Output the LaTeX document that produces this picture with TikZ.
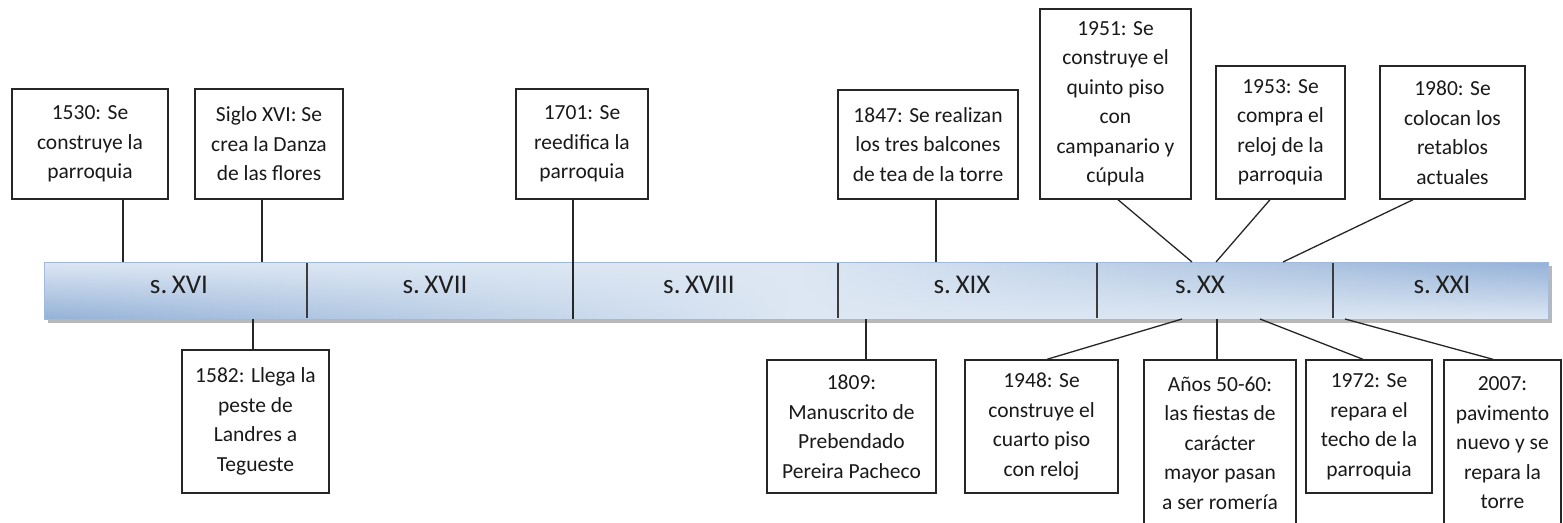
\documentclass[tikz,border=0pt]{standalone}
\usepackage{fontspec}
\setmainfont{Carlito}
\definecolor{barlight}{RGB}{221,231,243}
\definecolor{bardark}{RGB}{147,177,215}
\definecolor{barline}{RGB}{160,185,220}
\definecolor{divcol}{RGB}{60,60,60}
\newcommand\evfont{\fontsize{21.5}{29.5}\selectfont}
\newcommand\barfont{\fontsize{27}{30}\selectfont}
\tikzset{
  evbox/.style={draw=black!85, line width=1.4pt, fill=white, align=center, inner sep=0pt, font=\evfont, text=black!90},
  conn/.style={draw=black!85, line width=1.3pt},
  divider/.style={draw=divcol, line width=1.8pt},
  seglabel/.style={font=\barfont, text=black!88, inner sep=0pt}
}
\begin{document}
\begin{tikzpicture}[x=1pt,y=-1pt]
\useasboundingbox (0,0) rectangle (1563,522);
\clip (0,0) rectangle (1563,522);
% bar shadow
\fill[black!28] (48,266) rectangle (1552,323);
% bar body as vertical slices with changing gradient
\begin{scope}
\clip (44,262) rectangle (1548,319);
\foreach \i in {0,...,149}{
  \pgfmathsetmacro\f{(\i+0.5)/150}
  \pgfmathsetmacro\td{max(0,2*\f-1)*100}
  \pgfmathsetmacro\bd{max(0,1-2*\f)*100}
  \pgfmathsetmacro\xa{44+\i*10.0267}
  \pgfmathsetmacro\xb{\xa+10.6}
  \shade[top color=bardark!\td!barlight, bottom color=bardark!\bd!barlight] (\xa,262) rectangle (\xb,319);
}
\end{scope}
\draw[barline, line width=1pt] (44,262) rectangle (1548,319);
% bar anchor points
\coordinate (tA) at (123,262);
\coordinate (tB) at (262,262);
\coordinate (tC) at (573,319);
\coordinate (tD) at (936,262);
\coordinate (tE) at (1192,262);
\coordinate (tF) at (1216,262);
\coordinate (tG) at (1283,262);
\coordinate (uA) at (253,319);
\coordinate (uB) at (866,319);
\coordinate (uC) at (1182,319);
\coordinate (uD) at (1217,319);
\coordinate (uE) at (1260,319);
\coordinate (uF) at (1345,319);
% dividers
\foreach \x/\n in {307/d1,838/d3,1097/d4,1333/d5}{
  \coordinate (\n t) at (\x,263);
  \coordinate (\n b) at (\x,318);
  \draw[divider] (\n t) -- (\n b);
}
% segment labels
\node[seglabel] (s16) at (179,285) {s.\,XVI};
\node[seglabel] (s17) at (435,285) {s.\,XVII};
\node[seglabel] (s18) at (699,285) {s.\,XVIII};
\node[seglabel] (s19) at (962,285) {s.\,XIX};
\node[seglabel] (s20) at (1200,285) {s.\,XX};
\node[seglabel] (s21) at (1442,285) {s.\,XXI};
% top boxes
\node[evbox, minimum width=156, minimum height=110] (e1530) at (90,144) {1530: Se\\construye la\\parroquia};
\node[evbox, minimum width=148, minimum height=110] (eSiglo) at (269,144) {Siglo XVI: Se\\crea la Danza\\de las flores};
\node[evbox, minimum width=132, minimum height=110] (e1701) at (582,144) {1701: Se\\reedifica la\\parroquia};
\node[evbox, minimum width=180, minimum height=109] (e1847) at (928,144.5) {1847: Se realizan\\los tres balcones\\de tea de la torre};
\node[evbox, minimum width=151, minimum height=190] (e1951) at (1115.5,104) {1951: Se\\construye el\\quinto piso\\con\\campanario y\\cúpula};
\node[evbox, minimum width=129, minimum height=133] (e1953) at (1280.5,132.5) {1953: Se\\compra el\\reloj de la\\parroquia};
\node[evbox, minimum width=145, minimum height=133] (e1980) at (1452.5,132.5) {1980: Se\\colocan los\\retablos\\actuales};
% bottom boxes
\node[evbox, minimum width=147, minimum height=143] (e1582) at (255.5,421.5) {1582: Llega la\\peste de\\Landres a\\Tegueste};
\node[evbox, minimum width=169, minimum height=133] (e1809) at (851.5,426.5) {1809:\\Manuscrito de\\Prebendado\\Pereira Pacheco};
\node[evbox, minimum width=153, minimum height=133] (e1948) at (1041.5,426.5) {1948: Se\\construye el\\cuarto piso\\con reloj};
\node[evbox, minimum width=152, minimum height=166] (eAnos) at (1220,443) {Años 50-60:\\las fiestas de\\carácter\\mayor pasan\\a ser romería};
\node[evbox, minimum width=126, minimum height=133] (e1972) at (1369,426.5) {1972: Se\\repara el\\techo de la\\parroquia};
\node[evbox, minimum width=117, minimum height=166] (e2007) at (1502.5,443) {2007:\\pavimento\\nuevo y se\\repara la\\torre};
% connectors
\draw[conn] ([xshift=33pt]e1530.south) -- (tA);
\draw[conn] ([xshift=-7pt]eSiglo.south) -- (tB);
\draw[conn] ([xshift=-9pt]e1701.south) -- (tC);
\draw[conn] ([xshift=8pt]e1847.south) -- (tD);
\draw[conn] ([xshift=2.5pt]e1951.south) -- (tE);
\draw[conn] ([xshift=-10.5pt]e1953.south) -- (tF);
\draw[conn] ([xshift=-39.5pt]e1980.south) -- (tG);
\draw[conn] ([xshift=-2.5pt]e1582.north) -- (uA);
\draw[conn] ([xshift=14.5pt]e1809.north) -- (uB);
\draw[conn] ([xshift=5.5pt]e1948.north) -- (uC);
\draw[conn] ([xshift=-3pt]eAnos.north) -- (uD);
\draw[conn] ([xshift=-6pt]e1972.north) -- (uE);
\draw[conn] ([xshift=-9.5pt]e2007.north) -- (uF);
\end{tikzpicture}
\end{document}
